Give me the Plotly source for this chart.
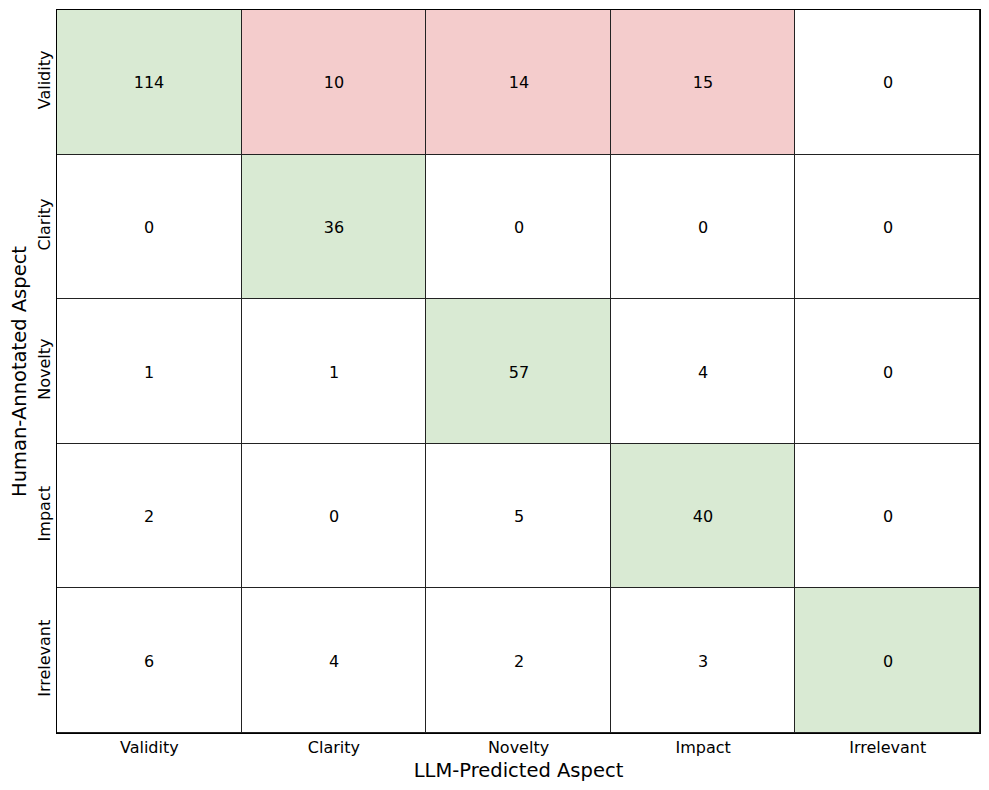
import plotly.graph_objects as go

categories = ["Validity", "Clarity", "Novelty", "Impact", "Irrelevant"]
counts = [
    [114, 10, 14, 15, 0],
    [0, 36, 0, 0, 0],
    [1, 1, 57, 4, 0],
    [2, 0, 5, 40, 0],
    [6, 4, 2, 3, 0],
]
# cell highlight class: 0 = none, 1 = correct (diagonal), 2 = misclassified Validity
highlight = [
    [1, 2, 2, 2, 0],
    [0, 1, 0, 0, 0],
    [0, 0, 1, 0, 0],
    [0, 0, 0, 1, 0],
    [0, 0, 0, 0, 1],
]

colorscale = [
    [0.0, "#ffffff"], [0.3333, "#ffffff"],
    [0.3333, "#d9ead3"], [0.6667, "#d9ead3"],
    [0.6667, "#f4cccc"], [1.0, "#f4cccc"],
]

fig = go.Figure(go.Heatmap(
    z=highlight,
    x=categories,
    y=categories,
    text=[[str(v) for v in row] for row in counts],
    texttemplate="%{text}",
    textfont=dict(family="DejaVu Sans", size=16, color="black"),
    colorscale=colorscale,
    zmin=-0.5, zmax=2.5,
    showscale=False,
    xgap=1, ygap=1,
    hoverinfo="skip",
))

fig.update_layout(
    width=973, height=774,
    margin=dict(l=49, r=1, t=2, b=49),
    paper_bgcolor="white",
    plot_bgcolor="#222222",
    font=dict(family="DejaVu Sans", color="black"),
    xaxis=dict(
        title=dict(text="LLM-Predicted Aspect", font=dict(size=19.5), standoff=7),
        tickfont=dict(size=16),
        showgrid=False, zeroline=False,
        showline=True, linecolor="black", linewidth=1, mirror=True,
        ticks="", ticklen=0,
    ),
    yaxis=dict(
        title=dict(text="Human-Annotated Aspect", font=dict(size=19.5), standoff=4),
        tickfont=dict(size=16),
        tickangle=-90,
        autorange="reversed",
        showgrid=False, zeroline=False,
        showline=True, linecolor="black", linewidth=1, mirror=True,
        ticks="", ticklen=0,
    ),
)

fig.write_html("out.html")
